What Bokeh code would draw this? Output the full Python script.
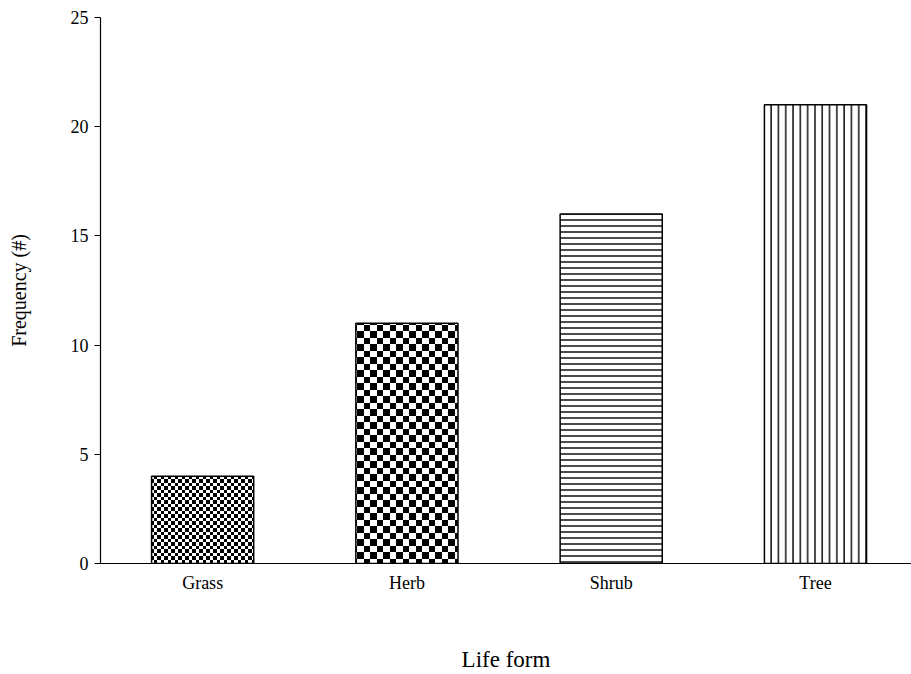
import base64
import struct
import zlib

from bokeh.embed import file_html
from bokeh.models import ColumnDataSource, FixedTicker, ImageURLTexture
from bokeh.plotting import figure
from bokeh.resources import INLINE

# Data
life_forms = ["Grass", "Herb", "Shrub", "Tree"]
frequency = [4, 11, 16, 21]
y_ticks = [0, 5, 10, 15, 20, 25]

FONT = "Liberation Serif"


def checker_png(cell_a, cell_b):
    """Return a data URI for one tile of a black/white checkerboard."""
    size = cell_a + cell_b
    rows = b""
    for y in range(size):
        row = bytearray([0])
        for x in range(size):
            black = (x < cell_a) == (y < cell_a)
            row.append(0 if black else 255)
        rows += bytes(row)

    def chunk(tag, data):
        body = tag + data
        return struct.pack(">I", len(data)) + body + struct.pack(">I", zlib.crc32(body) & 0xFFFFFFFF)

    png = b"\x89PNG\r\n\x1a\n"
    png += chunk(b"IHDR", struct.pack(">IIBBBBB", size, size, 8, 0, 0, 0, 0))
    png += chunk(b"IDAT", zlib.compress(rows))
    png += chunk(b"IEND", b"")
    return "data:image/png;base64," + base64.b64encode(png).decode()


textures = {
    "fine_checker": ImageURLTexture(url=checker_png(3, 4)),
    "coarse_checker": ImageURLTexture(url=checker_png(6, 7)),
}

xs = list(range(len(life_forms)))
source = ColumnDataSource(dict(
    x=xs,
    top=frequency,
    pattern=["fine_checker", "coarse_checker", "horizontal_line", "vertical_line"],
    scale=[7, 13, 6, 7.3],
))

p = figure(
    width=911, height=674,
    x_range=(-0.5, 3.47), y_range=(0, 25),
    output_backend="svg", toolbar_location=None,
    min_border_left=100, min_border_right=0,
    min_border_top=17, min_border_bottom=111,
)
p.outline_line_color = None
p.background_fill_color = "white"
p.border_fill_color = "white"
p.grid.visible = False

p.vbar(
    x="x", top="top", bottom=0, width=0.5, source=source,
    fill_color="white", line_color="black", line_width=1.5,
    hatch_pattern="pattern", hatch_scale="scale", hatch_weight=1.4,
    hatch_color="black", hatch_extra=textures,
)

# x axis: category names, no ticks
p.xaxis.ticker = FixedTicker(ticks=xs)
p.xaxis.major_label_overrides = {i: name for i, name in enumerate(life_forms)}
p.xaxis.minor_tick_line_color = None
p.xaxis.major_tick_in = 0
p.xaxis.major_tick_out = 0
p.xaxis.major_label_standoff = 9
p.xaxis.axis_label = "Life form"
p.xaxis.axis_label_standoff = 51
p.xaxis.axis_label_text_font_size = "23px"

# y axis
p.yaxis.ticker = FixedTicker(ticks=y_ticks)
p.yaxis.minor_tick_line_color = None
p.yaxis.major_tick_in = 0
p.yaxis.major_tick_out = 6
p.yaxis.major_label_standoff = 6
p.yaxis.axis_label = "Frequency (#)"
p.yaxis.axis_label_standoff = 38
p.yaxis.axis_label_text_font_size = "20px"

for ax in (p.xaxis[0], p.yaxis[0]):
    ax.axis_line_color = "black"
    ax.axis_line_width = 1.2
    ax.major_tick_line_color = "black" if ax is p.yaxis[0] else None
    ax.major_label_text_font = FONT
    ax.major_label_text_font_size = "18px"
    ax.major_label_text_color = "black"
    ax.axis_label_text_font = FONT
    ax.axis_label_text_font_style = "normal"
    ax.axis_label_text_color = "black"

open("out.html", "w").write(file_html(p, INLINE))
